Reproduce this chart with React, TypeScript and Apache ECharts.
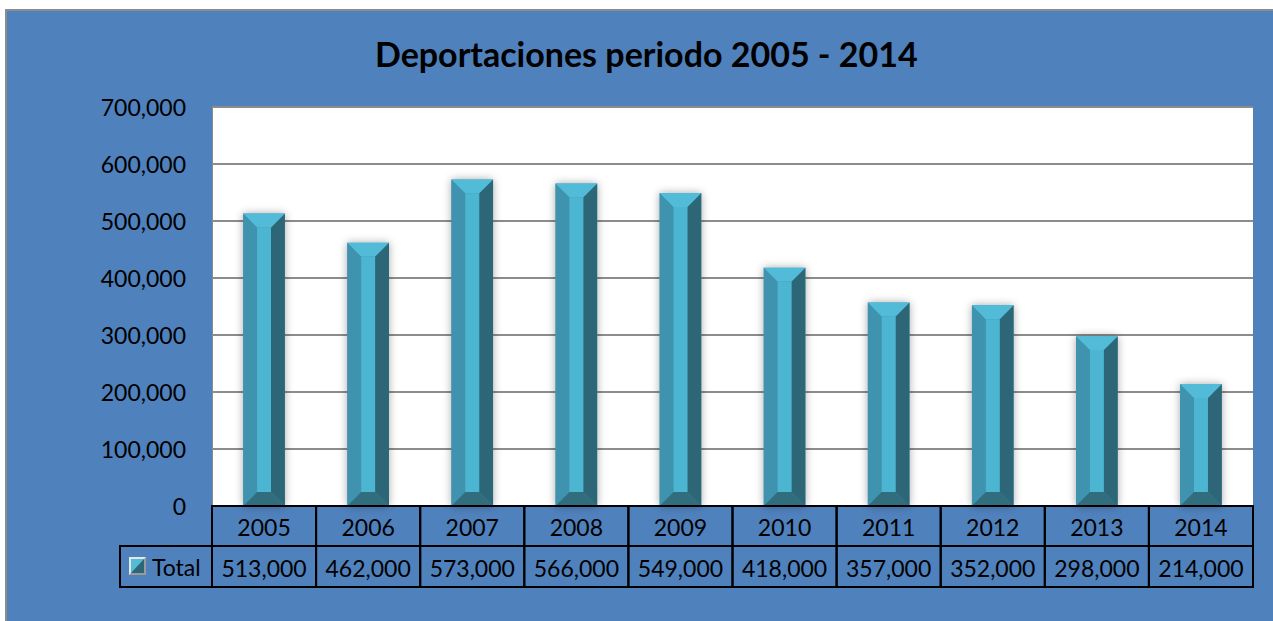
import React, { useEffect, useRef } from "react";
import * as echarts from "echarts";

const years = ["2005", "2006", "2007", "2008", "2009", "2010", "2011", "2012", "2013", "2014"];
const totals = [513000, 462000, 573000, 566000, 549000, 418000, 357000, 352000, 298000, 214000];
const seriesName = "Total";
const chartTitle = "Deportaciones periodo 2005 - 2014";

const fmt = (v: number) => String(v).replace(/\B(?=(\d{3})+(?!\d))/g, ",");

const GRID_LEFT = 212;
const GRID_TOP = 107;
const GRID_RIGHT = 20;
const GRID_BOTTOM_Y = 506;
const ROW_H = 40;
const FONT = "Lato, 'Liberation Sans', sans-serif";

export default function App() {
  const ref = useRef<HTMLDivElement>(null);
  useEffect(() => {
    if (!ref.current) return;
    const chart = echarts.init(ref.current, null, { renderer: "svg" });
    const H = 621;
    const option: any = {
      animation: false,
      backgroundColor: "transparent",
      title: {
        text: chartTitle,
        left: 370,
        top: 31,
        textStyle: { fontFamily: FONT, fontWeight: "bold", fontSize: 34, color: "#000" },
      },
      grid: {
        left: GRID_LEFT,
        top: GRID_TOP,
        right: GRID_RIGHT,
        bottom: H - GRID_BOTTOM_Y,
        show: true,
        backgroundColor: "#ffffff",
        borderWidth: 0,
      },
      xAxis: [
        {
          type: "category",
          data: years,
          position: "bottom",
          axisLine: { show: false },
          axisTick: { show: false },
          axisLabel: { fontFamily: FONT, fontSize: 23, color: "#000", margin: 9, interval: 0 },
          splitLine: { show: false },
        },
        {
          type: "category",
          data: totals.map(fmt),
          position: "bottom",
          offset: ROW_H,
          axisLine: { show: false },
          axisTick: { show: false },
          axisLabel: { fontFamily: FONT, fontSize: 23, color: "#000", margin: 10, interval: 0 },
          splitLine: { show: false },
        },
      ],
      yAxis: {
        type: "value",
        min: 0,
        max: 700000,
        interval: 100000,
        axisLine: { show: true, lineStyle: { color: "#8C8C8C", width: 1 } },
        axisTick: { show: false },
        axisLabel: { fontFamily: FONT, fontSize: 23, color: "#000", margin: 26, formatter: (v: number) => fmt(v) },
        splitLine: { show: true, lineStyle: { color: "#8C8C8C", width: 2 } },
      },
      graphic: [
        {
          type: "rect",
          shape: { x: 120, y: GRID_BOTTOM_Y + ROW_H, width: GRID_LEFT - 120, height: ROW_H + 1 },
          style: { fill: "none", stroke: "#000", lineWidth: 2 },
          z: 10,
        },
        {
          type: "group",
          x: 129,
          y: GRID_BOTTOM_Y + ROW_H + 11,
          z: 10,
          children: [
            { type: "rect", shape: { x: 0, y: 0, width: 17, height: 18 }, style: { fill: "#9a9a9a" } },
            { type: "polygon", shape: { points: [[0, 0], [17, 0], [15, 2], [2, 2], [2, 16], [0, 18]] }, style: { fill: "#e6e6e6" } },
            { type: "polygon", shape: { points: [[2, 2], [15, 2], [2, 16]] }, style: { fill: "#52BCD8" } },
            { type: "polygon", shape: { points: [[15, 2], [15, 16], [2, 16]] }, style: { fill: "#2D6777" } },
          ],
        },
        {
          type: "text",
          x: 152,
          y: GRID_BOTTOM_Y + ROW_H + 21,
          z: 10,
          style: { text: seriesName, fontFamily: FONT, fontSize: 23, fill: "#000", verticalAlign: "middle" },
        },
      ],
      series: [
        {
          type: "custom",
          name: seriesName,
          xAxisIndex: 0,
          data: totals.map((v, i) => [i, v]),
          clip: false,
          renderItem: (params: any, api: any) => {
            const idx = api.value(0);
            const val = api.value(1);
            const top = api.coord([idx, val]);
            const base = api.coord([idx, 0]);
            const band = api.size([1, 0])[0];
            const w = band * 0.4;
            const x0 = top[0] - w / 2;
            const x1 = top[0] + w / 2;
            const y0 = top[1];
            const y1 = base[1];
            const b = w / 3;
            const cl = top[0] - band / 2;
            return {
              type: "group",
              children: [
                {
                  type: "rect",
                  shape: { x: x0, y: y0, width: w, height: y1 - y0 },
                  style: { fill: "#3F93AE", shadowBlur: 8, shadowColor: "rgba(0,0,0,0.35)", shadowOffsetX: 0, shadowOffsetY: 0 },
                },
                {
                  type: "polygon",
                  shape: { points: [[x0, y0], [x0 + b, y0 + b], [x0 + b, y1 - b], [x0, y1]] },
                  style: { fill: "#3F93AE" },
                },
                {
                  type: "polygon",
                  shape: { points: [[x1, y0], [x1, y1], [x1 - b, y1 - b], [x1 - b, y0 + b]] },
                  style: { fill: "#2D6777" },
                },
                {
                  type: "polygon",
                  shape: { points: [[x0, y0], [x1, y0], [x1 - b, y0 + b], [x0 + b, y0 + b]] },
                  style: { fill: "#52BCD8" },
                },
                {
                  type: "polygon",
                  shape: { points: [[x0, y1], [x0 + b, y1 - b], [x1 - b, y1 - b], [x1, y1]] },
                  style: { fill: "#326D7D" },
                },
                {
                  type: "rect",
                  shape: { x: x0 + b, y: y0 + b, width: w - 2 * b, height: Math.max(0, y1 - y0 - 2 * b) },
                  style: { fill: "#4CB6D2" },
                },
                {
                  type: "rect",
                  shape: { x: cl, y: y1, width: band, height: ROW_H },
                  style: { fill: "none", stroke: "#000", lineWidth: 2 },
                },
                {
                  type: "rect",
                  shape: { x: cl, y: y1 + ROW_H, width: band, height: ROW_H + 1 },
                  style: { fill: "none", stroke: "#000", lineWidth: 2 },
                },
              ],
            };
          },
        },
      ],
    };
    chart.setOption(option);
    return () => chart.dispose();
  }, []);
  return (
    <div style={{ position: "absolute", left: 0, top: 0, width: 1273, height: 621, overflow: "hidden", background: "#fff" }}>
      <div
        style={{
          position: "absolute",
          left: 5,
          top: 9,
          width: 1400,
          height: 800,
          background: "#4F81BD",
          border: "2px solid #8C8C8C",
        }}
      />
      <div ref={ref} style={{ position: "absolute", left: 0, top: 0, width: 1273, height: 621 }} />
    </div>
  );
}
